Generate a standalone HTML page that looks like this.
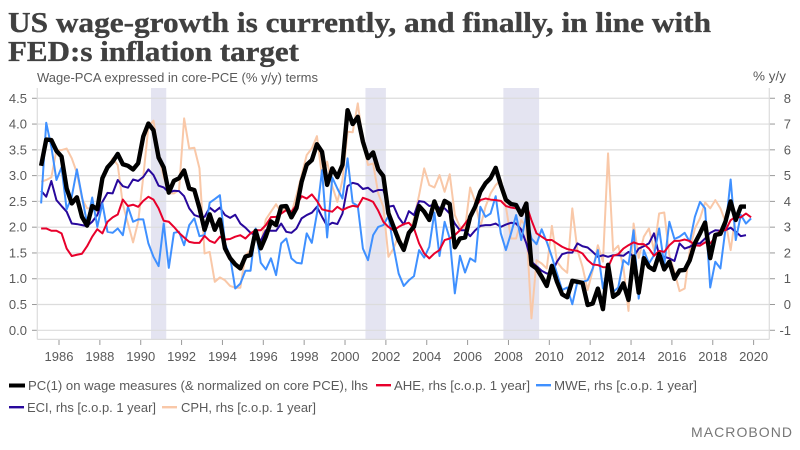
<!DOCTYPE html>
<html lang="en">
<head>
<meta charset="utf-8">
<title>US wage-growth chart</title>
<style>
html,body{margin:0;padding:0;background:#fff;width:800px;height:450px;overflow:hidden}
svg{display:block}
text{font-family:"Liberation Sans",sans-serif;fill:#5a5a5a}
.title{font-family:"Liberation Serif",serif;font-weight:700;font-size:28.5px;fill:#404040;stroke:#404040;stroke-width:.35px}
.lab{font-size:13px}
</style>
</head>
<body>
<svg id="chart" width="800" height="450" viewBox="0 0 800 450" xmlns="http://www.w3.org/2000/svg">
  <text class="title" x="8" y="32" textLength="703" lengthAdjust="spacingAndGlyphs">US wage-growth is currently, and finally, in line with</text>
  <text class="title" x="8" y="61" textLength="291" lengthAdjust="spacingAndGlyphs">FED:s inflation target</text>
  <text class="lab" x="37" y="82" textLength="281" lengthAdjust="spacingAndGlyphs">Wage-PCA expressed in core-PCE (% y/y) terms</text>
  <text class="lab" x="753" y="80.5" textLength="33" lengthAdjust="spacingAndGlyphs">% y/y</text>
  <g id="bands"></g>
  <g id="grid"></g>
  <g id="frame"></g>
  <g id="series"></g>

  <g>
    <rect x="9" y="383.5" width="16" height="4" fill="#000"/>
    <text class="lab" x="28" y="390" textLength="340" lengthAdjust="spacingAndGlyphs">PC(1) on wage measures (&amp; normalized on core PCE), lhs</text>
    <rect x="376" y="384" width="15" height="2.4" fill="#e8002b"/>
    <text class="lab" x="394" y="390" textLength="136" lengthAdjust="spacingAndGlyphs">AHE, rhs [c.o.p. 1 year]</text>
    <rect x="536" y="384" width="15" height="2.4" fill="#3f90ff"/>
    <text class="lab" x="554" y="390" textLength="143" lengthAdjust="spacingAndGlyphs">MWE, rhs [c.o.p. 1 year]</text>
    <rect x="9" y="406" width="15" height="2.4" fill="#28089c"/>
    <text class="lab" x="27" y="412" textLength="129" lengthAdjust="spacingAndGlyphs">ECI, rhs [c.o.p. 1 year]</text>
    <rect x="162" y="406" width="15" height="2.4" fill="#f9c8a8"/>
    <text class="lab" x="181" y="412" textLength="135" lengthAdjust="spacingAndGlyphs">CPH, rhs [c.o.p. 1 year]</text>
  </g>
  <text x="691" y="437" font-size="14" textLength="101" style="fill:#777">MACROBOND</text>
</svg>
<script>
var yearTicks = [1986,1988,1990,1992,1994,1996,1998,2000,2002,2004,2006,2008,2010,2012,2014,2016,2018,2020];
var leftTicks = ["0.0","0.5","1.0","1.5","2.0","2.5","3.0","3.5","4.0","4.5"];
var rightTicks = ["-1","0","1","2","3","4","5","6","7","8"];
var startYear = 1985;
var recessionStarts = [1990.5,2001.0,2007.75];
var recessionEnds = [1991.25,2002.0,2009.5];
var pc1 = [3.19,3.70,3.69,3.48,3.37,2.75,2.46,2.58,2.20,2.03,2.41,2.35,2.95,3.16,3.27,3.42,3.22,3.19,3.12,3.24,3.76,4.01,3.88,3.35,3.16,2.67,2.90,2.95,3.10,2.75,2.72,2.37,1.95,2.25,1.95,2.15,1.59,1.40,1.28,1.20,1.43,1.46,1.93,1.59,1.82,2.11,2.04,2.40,2.41,2.19,2.37,2.88,3.21,3.30,3.61,3.46,2.82,3.14,2.97,3.21,4.27,4.00,4.14,3.66,3.34,3.45,3.12,2.99,2.27,2.01,1.75,1.56,1.89,2.01,2.41,2.30,2.14,2.50,2.24,2.51,2.45,1.61,1.78,1.80,2.20,2.40,2.69,2.85,2.95,3.15,2.82,2.53,2.45,2.43,2.24,2.46,1.27,1.20,1.04,0.86,1.25,0.94,0.70,0.64,0.96,0.94,0.92,0.49,0.52,0.81,0.41,1.27,0.65,0.72,0.91,0.59,1.43,0.73,1.40,1.23,1.17,1.48,1.18,1.33,1.00,1.16,1.17,1.36,1.69,1.88,2.09,1.40,1.85,1.87,2.11,2.50,2.14,2.40,2.40];
var ahe = [2.95,2.95,2.86,2.86,2.76,2.17,1.88,1.93,1.97,2.26,2.63,2.92,2.76,3.21,3.38,3.49,4.07,3.82,3.87,3.79,4.02,4.18,4.07,3.73,3.25,3.21,3.01,2.78,2.60,2.43,2.39,2.39,2.66,2.47,2.39,2.63,2.52,2.54,2.63,2.69,2.56,2.76,2.88,2.88,3.08,3.39,3.40,3.53,3.66,3.60,3.86,4.20,4.11,4.27,4.02,3.69,3.64,3.60,3.79,3.66,3.76,3.83,3.79,4.14,4.07,3.98,3.64,3.21,3.01,2.88,3.01,3.12,3.17,2.95,2.37,1.98,1.79,1.98,2.11,2.50,2.56,2.69,2.88,3.14,3.40,3.79,4.05,4.11,4.07,4.05,4.02,3.82,3.76,3.73,3.60,3.86,3.27,2.76,2.63,2.50,2.50,2.37,2.24,2.15,2.11,2.08,1.98,1.72,1.55,1.53,1.45,1.44,1.89,1.95,2.17,2.30,2.41,2.34,2.34,2.17,1.89,2.08,2.04,2.30,2.47,2.47,2.52,2.46,2.30,2.28,2.41,2.37,2.60,2.88,2.88,3.27,3.40,3.38,3.53,3.38];
var mwe = [3.92,7.05,6.12,4.83,5.32,3.69,4.18,5.24,4.18,3.14,4.15,3.01,3.92,2.82,2.78,2.95,2.69,3.79,3.21,3.30,3.30,2.37,1.85,1.49,3.14,1.42,2.78,2.82,2.30,3.08,3.34,2.65,2.69,3.95,4.09,4.24,2.37,1.85,0.62,0.81,1.31,1.31,2.95,1.62,1.36,1.79,1.14,2.37,2.56,1.79,1.62,1.59,2.76,2.39,3.53,5.21,2.60,4.93,4.50,4.11,5.67,3.95,3.82,2.17,1.72,2.69,3.01,3.08,3.43,2.24,1.20,0.72,0.94,1.10,2.11,1.82,2.24,3.57,1.88,3.21,2.56,0.43,1.89,1.24,1.79,1.66,3.79,3.40,3.53,4.20,2.76,2.11,2.76,3.47,2.50,3.47,2.56,2.34,2.92,2.43,1.85,1.20,0.56,0.66,0.01,0.88,0.88,0.94,1.40,2.11,0.62,1.53,0.49,0.66,1.72,1.55,2.88,0.23,2.11,1.59,1.91,2.95,1.53,3.21,2.54,2.63,2.78,2.43,3.40,3.98,3.73,0.66,1.66,1.40,2.95,4.85,2.50,3.47,3.14,3.34];
var eci = [4.41,4.18,4.79,4.05,3.82,3.60,3.14,3.12,3.08,3.04,3.21,3.47,3.98,4.33,4.31,4.83,4.59,4.53,4.85,4.79,4.95,5.24,5.02,4.61,4.54,4.35,4.41,4.40,4.20,3.73,3.47,3.40,3.40,3.76,3.60,3.76,3.47,3.36,3.48,3.14,2.98,2.78,2.69,2.47,2.88,2.86,2.86,3.14,2.82,2.78,2.95,3.34,3.47,3.56,3.79,3.40,3.05,3.17,3.12,3.53,4.59,4.72,4.67,4.48,4.53,4.37,4.44,4.44,3.79,3.83,3.38,3.10,3.62,3.47,4.01,3.98,3.82,3.88,3.75,3.73,3.53,3.14,2.88,2.88,2.65,2.88,3.05,3.08,3.08,3.14,3.01,3.10,3.17,3.14,2.91,2.37,1.66,1.49,1.31,1.20,1.23,1.66,1.95,2.01,2.01,2.37,2.26,2.21,2.04,1.85,1.91,1.85,1.91,1.91,1.89,2.04,1.85,2.17,2.26,2.37,2.76,1.91,1.85,1.79,1.69,2.37,2.17,2.24,2.37,2.37,2.56,2.78,2.88,2.86,2.88,2.98,2.82,2.65,2.69];
var cph = [4.76,4.83,4.93,5.99,5.99,6.05,5.67,5.11,4.11,3.73,3.73,3.60,4.83,5.32,5.67,5.41,3.89,3.14,2.41,3.21,4.95,6.90,7.13,5.80,4.95,4.31,4.31,4.44,7.22,6.05,6.08,5.28,1.98,2.04,0.88,1.05,0.94,0.72,0.65,0.65,1.91,2.11,2.78,2.37,3.30,3.60,3.89,3.56,3.75,3.53,4.24,5.02,5.80,6.05,6.53,4.95,5.54,4.59,3.98,4.83,6.70,6.68,7.80,6.31,5.41,5.47,4.31,3.79,1.85,2.17,2.69,2.11,2.69,3.34,4.24,5.28,4.63,4.54,5.02,4.37,5.05,3.47,3.01,2.95,4.54,3.98,3.01,3.79,4.31,4.63,4.83,3.79,2.56,2.56,3.27,3.01,-0.54,1.72,1.59,1.40,3.05,1.66,1.40,1.23,3.73,2.11,1.46,0.56,1.33,2.30,1.66,5.86,2.08,2.28,1.46,-0.25,3.14,1.81,2.63,2.95,2.11,3.53,3.57,1.91,1.27,0.52,0.62,2.11,2.95,3.34,3.96,3.73,4.05,3.73,3.21,2.11,3.53];

var NS = 'http://www.w3.org/2000/svg';
function make(tag, attrs){
  var n = document.createElementNS(NS, tag);
  for (var k in attrs) n.setAttribute(k, attrs[k]);
  return n;
}
var plotLeft = 37.3, plotRight = 769.3, plotTop = 88, plotBottom = 339.4;
function xScale(year){ return 59 + (year - 1986) * 20.43; }
function yLeft(v){ return 330.3 - v * 51.56; }
function yRight(v){ return 304.5 - v * 25.78; }
function quarterYear(i){ return startYear + (i + 0.5) / 4; }

var bands = document.getElementById('bands');
recessionStarts.forEach(function(s, i){
  var a = xScale(s), b = xScale(recessionEnds[i]);
  var r = make('rect', {x:a, y:plotTop, width:b-a, height:plotBottom-plotTop, fill:'#e4e4f1'});
  
  
  bands.appendChild(r);
});

var grid = document.getElementById('grid');
var frame = document.getElementById('frame');
leftTicks.forEach(function(t){
  var y = yLeft(parseFloat(t));
  var g = make('line', {x1:plotLeft, x2:plotRight, y1:y, y2:y, stroke:'#dcdcdc', 'stroke-width':1.2});
  
  
  grid.appendChild(g);
  var tk = make('line', {x1:32, x2:plotLeft, y1:y, y2:y, stroke:'#999', 'stroke-width':1});
  
  
  frame.appendChild(tk);
  var lb = make('text', {x:27, y:y+4.5, 'text-anchor':'end', 'class':'lab'});
  
  
  lb.textContent = t;
  frame.appendChild(lb);
});
rightTicks.forEach(function(t){
  var y = yRight(parseFloat(t));
  var tk = make('line', {x1:plotRight, x2:775, y1:y, y2:y, stroke:'#999', 'stroke-width':1});
  
  
  frame.appendChild(tk);
  var lb = make('text', {x:791, y:y+4.5, 'text-anchor':'end', 'class':'lab'});
  
  
  lb.textContent = t;
  frame.appendChild(lb);
});
yearTicks.forEach(function(t){
  var x = xScale(t);
  var tk = make('line', {x1:x, x2:x, y1:plotBottom, y2:345, stroke:'#999', 'stroke-width':1});
  
  
  frame.appendChild(tk);
  var lb = make('text', {x:x, y:361, 'text-anchor':'middle', 'class':'lab'});
  
  
  lb.textContent = t;
  frame.appendChild(lb);
});
var axisL = make('line', {x1:plotLeft, x2:plotLeft, y1:plotTop, y2:plotBottom, stroke:'#dcdcdc', 'stroke-width':1.2});


frame.appendChild(axisL);
var axisR = make('line', {x1:plotRight, x2:plotRight, y1:plotTop, y2:plotBottom, stroke:'#dcdcdc', 'stroke-width':1.2});


frame.appendChild(axisR);
var axisB = make('line', {x1:plotLeft, x2:plotRight, y1:plotBottom, y2:plotBottom, stroke:'#dcdcdc', 'stroke-width':1.2});


frame.appendChild(axisB);

function pathFor(values, yFn){
  return values.map(function(v, i){
    return (i ? 'L' : 'M') + xScale(quarterYear(i)).toFixed(2) + ' ' + yFn(v).toFixed(2);
  }).join('');
}
var seriesGroup = document.getElementById('series');
function drawLine(values, yFn, color, width){
  var p = make('path', {d:pathFor(values, yFn), fill:'none', stroke:color, 'stroke-width':width, 'stroke-linejoin':'round'});
  seriesGroup.appendChild(p);
  return p;
}
var lineCph = drawLine(cph, yRight, '#f9c8a8', 2);


var lineEci = drawLine(eci, yRight, '#28089c', 2);


var lineMwe = drawLine(mwe, yRight, '#3f90ff', 2);


var lineAhe = drawLine(ahe, yRight, '#e8002b', 2);


var linePc1 = drawLine(pc1, yLeft, '#000000', 4.4);


</script>
</body>
</html>
